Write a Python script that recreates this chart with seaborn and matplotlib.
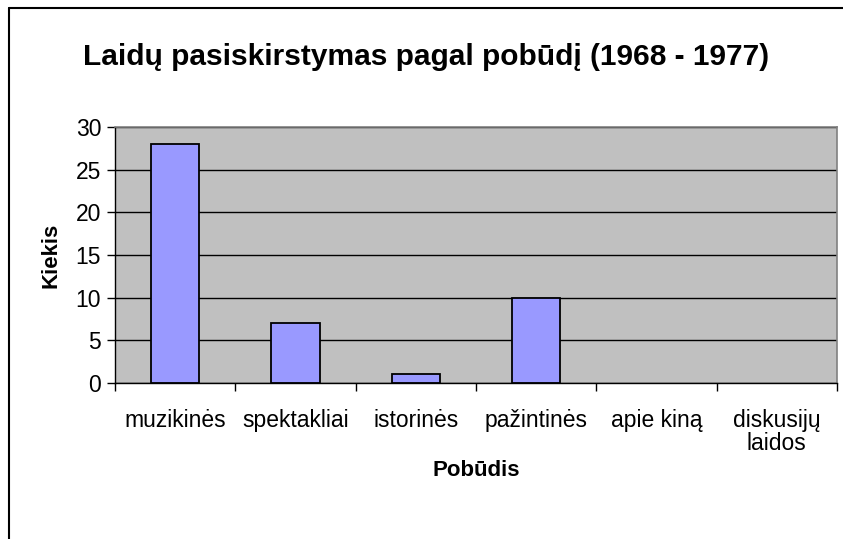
import matplotlib
matplotlib.use("Agg")
import matplotlib.pyplot as plt
import seaborn as sns
import pandas as pd
from matplotlib.lines import Line2D

# Duomenys
kategorijos = ["muzikinės", "spektakliai", "istorinės", "pažintinės", "apie kiną", "diskusijų\nlaidos"]
kiekiai = [28, 7, 1, 10, 0, 0]
y_ticks = [0, 5, 10, 15, 20, 25, 30]

df = pd.DataFrame({"Pobūdis": kategorijos, "Kiekis": kiekiai})

sns.set_style("white")
plt.rcParams["font.family"] = ["Liberation Sans", "DejaVu Sans"]
plt.rcParams["text.color"] = "black"
plt.rcParams["axes.labelcolor"] = "black"
plt.rcParams["xtick.color"] = "black"
plt.rcParams["ytick.color"] = "black"

fig = plt.figure(figsize=(8.43, 5.39), dpi=100)
ax = fig.add_axes([0.1364, 0.2894, 0.8565, 0.475])

sns.barplot(data=df, x="Pobūdis", y="Kiekis", color="#9999FF", edgecolor="black",
            linewidth=1.3, width=0.4, saturation=1, ax=ax)
# nulinių stulpelių nepiešiame kontūro
for p in ax.patches:
    if p.get_height() == 0:
        p.set_linewidth(0)

ax.set_facecolor("#C0C0C0")
ax.set_ylim(0, 30)
ax.set_xlim(-0.5, len(kategorijos) - 0.5)
ax.set_yticks(y_ticks)
ax.yaxis.grid(True, color="black", linewidth=1.0)
ax.set_axisbelow(True)

# Excel stiliaus padalos tarp kategorijų
ax.set_xticks([i - 0.5 for i in range(len(kategorijos) + 1)])
ax.set_xticklabels([])
ax.set_xticks(range(len(kategorijos)), minor=True)
ax.set_xticklabels(kategorijos, minor=True, fontsize=16.5, linespacing=1.0)
ax.tick_params(axis="x", which="major", direction="out", length=6, width=1, color="black", bottom=True)
ax.tick_params(axis="x", which="minor", length=0, pad=19)
ax.tick_params(axis="y", direction="out", length=6, width=1, color="black", left=True, labelsize=16.5, pad=4)

for s in ["top", "right"]:
    ax.spines[s].set_color("#808080")
    ax.spines[s].set_linewidth(1.2)
for s in ["left", "bottom"]:
    ax.spines[s].set_color("black")
    ax.spines[s].set_linewidth(1.0)

ax.set_xlabel("Pobūdis", fontsize=16, fontweight="bold", labelpad=3)
ax.set_ylabel("Kiekis", fontsize=16, fontweight="bold", labelpad=10)

fig.text(0.505, 0.895, "Laidų pasiskirstymas pagal pobūdį (1968 - 1977)",
         ha="center", va="center", fontsize=21.5, fontweight="bold")

# Diagramos rėmelis (kairė ir viršus)
fig.add_artist(Line2D([0.011, 0.011], [0.0, 0.985], transform=fig.transFigure, color="black", linewidth=1.5))
fig.add_artist(Line2D([0.011, 1.0], [0.985, 0.985], transform=fig.transFigure, color="black", linewidth=1.5))

fig.savefig("out.png", dpi=100)
